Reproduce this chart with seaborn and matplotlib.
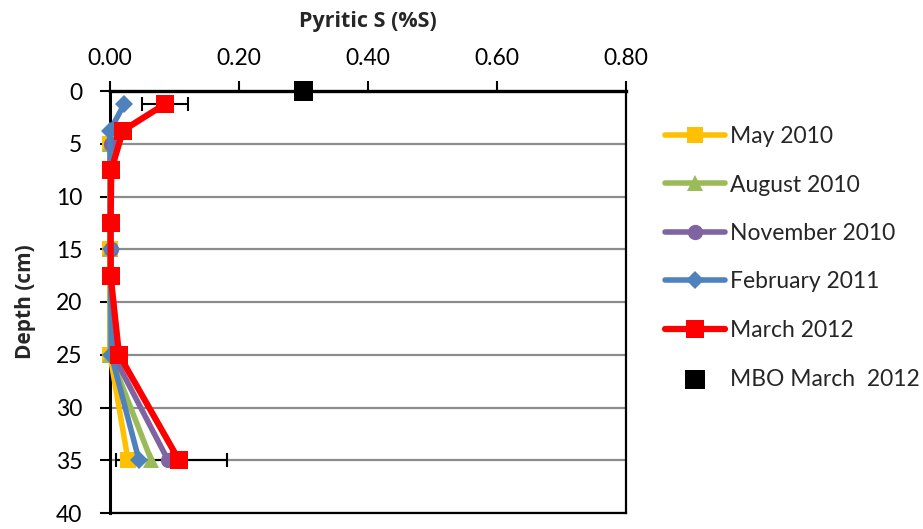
import matplotlib
matplotlib.use("Agg")
import matplotlib.pyplot as plt
import seaborn as sns
import numpy as np

# ---- data ----
may_depth = [5, 15, 25, 35]
may_s = [0.0, 0.0, 0.0, 0.028]

aug_depth = [5, 15, 25, 35]
aug_s = [0.0, 0.0, 0.0, 0.064]

nov_depth = [5, 15, 25, 35]
nov_s = [0.001, 0.001, 0.005, 0.090]

feb_depth = [1.25, 3.75, 15, 25, 35]
feb_s = [0.022, 0.0, 0.001, 0.002, 0.045]

mar_depth = [1.25, 3.75, 7.5, 12.5, 17.5, 25, 35]
mar_s = [0.085, 0.020, 0.002, 0.001, 0.001, 0.014, 0.107]

err_depth = [1.25, 35]
err_center = [0.085, 0.107]
err_low = [0.035, 0.098]
err_high = [0.036, 0.075]

mbo_depth = [0]
mbo_s = [0.30]

labels = ["May 2010", "August 2010", "November 2010", "February 2011",
          "March 2012", "MBO March  2012"]

x_ticks = [0.0, 0.2, 0.4, 0.6, 0.8]
y_ticks = [0, 5, 10, 15, 20, 25, 30, 35, 40]

# ---- style ----
sns.set_style("white")
plt.rcParams["font.family"] = ["Lato", "DejaVu Sans"]

fig = plt.figure(figsize=(9.23, 5.29), dpi=100)
ax = fig.add_axes([110 / 923, 1 - 513 / 529, 516 / 923, 422 / 529])

series = [
    (may_s, may_depth, "#FFC000", "s", 11, 4.0, labels[0]),
    (aug_s, aug_depth, "#9BBB59", "^", 12, 4.0, labels[1]),
    (nov_s, nov_depth, "#8064A2", "o", 11, 4.0, labels[2]),
    (feb_s, feb_depth, "#4F81BD", "D", 9, 4.0, labels[3]),
    (mar_s, mar_depth, "#FF0000", "s", 12.5, 4.5, labels[4]),
]

for i, (xs, ys, col, mk, ms, lw, lab) in enumerate(series):
    sns.lineplot(x=xs, y=ys, sort=False, estimator=None, ax=ax,
                 color=col, marker=mk, markersize=ms, markeredgewidth=0,
                 linewidth=lw, label=lab, clip_on=False, zorder=3 + i)

ax.errorbar(err_center, err_depth, xerr=[err_low, err_high], fmt="none",
            ecolor="black", elinewidth=1.5, capsize=5, capthick=1.5, zorder=2.5)

sns.scatterplot(x=mbo_s, y=mbo_depth, ax=ax, color="black", marker="s", s=200,
                edgecolor="none", label=labels[5], clip_on=False, zorder=10)

ax.set_xlim(0, 0.8)
ax.set_ylim(40, 0)
ax.set_xticks(x_ticks)
ax.set_xticklabels([f"{v:.2f}" for v in x_ticks])
ax.set_yticks(y_ticks)
ax.xaxis.tick_top()
ax.xaxis.set_label_position("top")
ax.tick_params(axis="both", direction="out", length=7, width=1.5, colors="black",
               labelsize=16.5, pad=4)
ax.tick_params(axis="x", top=True, bottom=False, pad=9)
ax.tick_params(axis="y", left=True, pad=13)
ax.yaxis.grid(True, color="#8C8C8C", linewidth=1.6)
ax.xaxis.grid(False)
for sp in ax.spines.values():
    sp.set_color("black")
    sp.set_linewidth(1.6)
ax.spines["top"].set_linewidth(2.4)
ax.spines["left"].set_linewidth(2.2)

ax.set_xlabel("Pyritic S (%S)", fontsize=15.5, fontweight="bold", labelpad=15,
              family=["Open Sans", "DejaVu Sans"])
ax.set_ylabel("Depth (cm)", fontsize=15, fontweight="bold", labelpad=14,
              family=["Open Sans", "DejaVu Sans"])

handles, labs = ax.get_legend_handles_labels()
leg = ax.legend(handles, labs, loc="upper left", bbox_to_anchor=(665 / 923, 1 - 126 / 529),
                bbox_transform=fig.transFigure, frameon=False, fontsize=16.5,
                handlelength=2.6, handletextpad=0.25, labelspacing=1.2,
                borderaxespad=0, borderpad=0)

fig.savefig("out.png", dpi=100)
